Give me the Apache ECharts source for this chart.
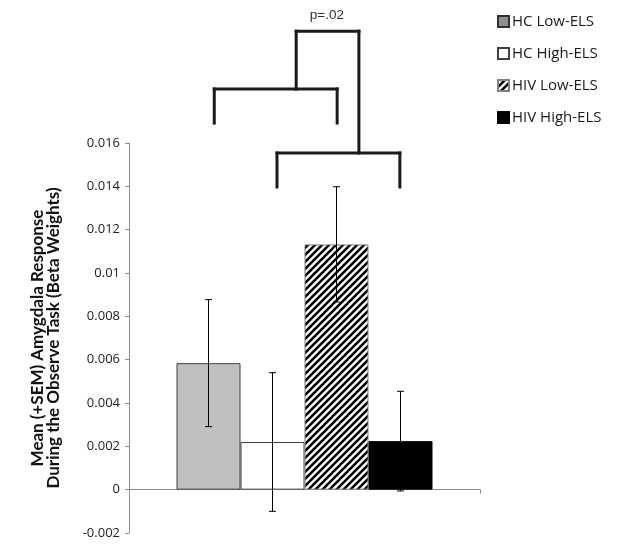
<!DOCTYPE html>
<html>
<head>
<meta charset="utf-8">
<style>
  html, body { margin: 0; padding: 0; background: #fff; }
  #chart { width: 621px; height: 553px; }
</style>
<script src="https://cdn.jsdelivr.net/npm/echarts@6/dist/echarts.min.js"></script>
</head>
<body>
<div id="chart"></div>
<script>
// ---- data ----
const seriesNames = ['HC Low-ELS', 'HC High-ELS', 'HIV Low-ELS', 'HIV High-ELS'];
const means = [0.00584, 0.00220, 0.01132, 0.00224];
const sems  = [0.00293, 0.00320, 0.00266, 0.00230];
const yTicks = { min: -0.002, max: 0.016, interval: 0.002 };
// bracket segments: [barIndexFrom, valueFrom, barIndexTo, valueTo]
const bracketSegments = [
  [0.09, 0.01692, 0.09, 0.01849],
  [0.09, 0.01849, 2.01, 0.01849],
  [2.01, 0.01849, 2.01, 0.01692],
  [1.07, 0.01397, 1.07, 0.01554],
  [1.07, 0.01554, 2.99, 0.01554],
  [2.99, 0.01554, 2.99, 0.01397],
  [1.37, 0.01849, 1.37, 0.02116],
  [1.37, 0.02116, 2.35, 0.02116],
  [2.35, 0.02116, 2.35, 0.01554]
];
const pLabel = { text: 'p=.02', barIndex: 1.85, value: 0.02190 };

// ---- styles ----
const BAR_W = 64;
function hatch() {
  const s = 7;
  const c = document.createElement('canvas');
  c.width = s; c.height = s;
  const g = c.getContext('2d');
  g.fillStyle = '#fff'; g.fillRect(0, 0, s, s);
  g.strokeStyle = '#000'; g.lineWidth = 2.6;
  g.beginPath();
  g.moveTo(-1, s + 1); g.lineTo(s + 1, -1);
  g.moveTo(-1, 1); g.lineTo(1, -1);
  g.moveTo(s - 1, s + 1); g.lineTo(s + 1, s - 1);
  g.stroke();
  return c;
}
const fills = [
  { color: '#c0c0c0', borderColor: '#404040', borderWidth: 1 },
  { color: '#ffffff', borderColor: '#404040', borderWidth: 1 },
  { color: { image: hatch(), repeat: 'repeat' }, borderColor: '#808080', borderWidth: 1 },
  { color: '#000000', borderColor: '#000000', borderWidth: 1 }
];

const chart = echarts.init(document.getElementById('chart'), null, { renderer: 'canvas' });

const barSeries = seriesNames.map((name, i) => ({
  name: name,
  type: 'bar',
  barWidth: BAR_W,
  barGap: '0%',
  data: [means[i]],
  itemStyle: fills[i],
  emphasis: { disabled: true },
  z: 2
}));

const errorSeries = {
  type: 'custom',
  name: 'err',
  z: 5,
  clip: false,
  silent: true,
  data: means.map((m, i) => [i, m - sems[i], m + sems[i]]),
  renderItem: function (params, api) {
    const i = api.value(0);
    const lo = api.coord([0, api.value(1)]);
    const hi = api.coord([0, api.value(2)]);
    const x = lo[0] + (i - 1.5) * BAR_W;
    const cap = 3.5;
    const st = { stroke: '#000', lineWidth: 1 };
    return {
      type: 'group',
      children: [
        { type: 'line', shape: { x1: x, y1: lo[1], x2: x, y2: hi[1] }, style: st },
        { type: 'line', shape: { x1: x - cap, y1: lo[1], x2: x + cap, y2: lo[1] }, style: st },
        { type: 'line', shape: { x1: x - cap, y1: hi[1], x2: x + cap, y2: hi[1] }, style: st }
      ]
    };
  }
};

const bracketSeries = {
  type: 'custom',
  name: 'brackets',
  z: 6,
  clip: false,
  silent: true,
  data: [0],
  renderItem: function (params, api) {
    const toPx = (idx, v) => {
      const p = api.coord([0, v]);
      return [p[0] + (idx - 1.5) * BAR_W, p[1]];
    };
    const children = bracketSegments.map(s => {
      const a = toPx(s[0], s[1]);
      const b = toPx(s[2], s[3]);
      return {
        type: 'line',
        shape: { x1: a[0], y1: a[1], x2: b[0], y2: b[1] },
        style: { stroke: '#1a1a1a', lineWidth: 3, lineCap: 'square' }
      };
    });
    const lp = toPx(pLabel.barIndex, pLabel.value);
    children.push({
      type: 'text',
      x: lp[0], y: lp[1],
      style: {
        text: pLabel.text, fill: '#333',
        font: '13.5px "Liberation Sans", Arial, sans-serif',
        align: 'center', verticalAlign: 'middle'
      }
    });
    return { type: 'group', children: children };
  }
};

chart.setOption({
  animation: false,
  backgroundColor: '#fff',
  legend: {
    orient: 'vertical',
    left: 492,
    top: 9,
    itemWidth: 11,
    itemHeight: 11,
    itemGap: 17,
    icon: 'rect',
    selectedMode: false,
    data: seriesNames.map((n, i) => i === 0 ? { name: n, itemStyle: { color: '#8f8f8f', borderColor: '#303030' } } : { name: n }),
    textStyle: { fontFamily: '"Open Sans", sans-serif', fontSize: 15, color: '#1a1a1a', padding: [0, 0, 0, -2] }
  },
  grid: { left: 129, top: 143, width: 351, height: 390, containLabel: false },
  xAxis: {
    type: 'category',
    data: ['group'],
    axisLine: { onZero: true, lineStyle: { color: '#8c8c8c', width: 1 } },
    axisTick: { show: true, length: 4, lineStyle: { color: '#8c8c8c' } },
    axisLabel: { show: false },
    splitLine: { show: false }
  },
  yAxis: {
    type: 'value',
    min: yTicks.min,
    max: yTicks.max,
    interval: yTicks.interval,
    name: 'Mean (+SEM) Amygdala Response\nDuring the Observe Task (Beta Weights)',
    nameLocation: 'middle',
    nameRotate: 90,
    nameGap: 67,
    nameTextStyle: { fontFamily: 'Lato, sans-serif', fontWeight: 'bold', fontSize: 17, color: '#111', lineHeight: 16.5 },
    axisLine: { show: true, lineStyle: { color: '#8c8c8c', width: 1 } },
    axisTick: { show: true, length: 4, lineStyle: { color: '#8c8c8c' } },
    axisLabel: { color: '#222', fontFamily: '"Open Sans", sans-serif', fontSize: 13, margin: 9 },
    splitLine: { show: false }
  },
  series: barSeries.concat([errorSeries, bracketSeries])
});
</script>
</body>
</html>
